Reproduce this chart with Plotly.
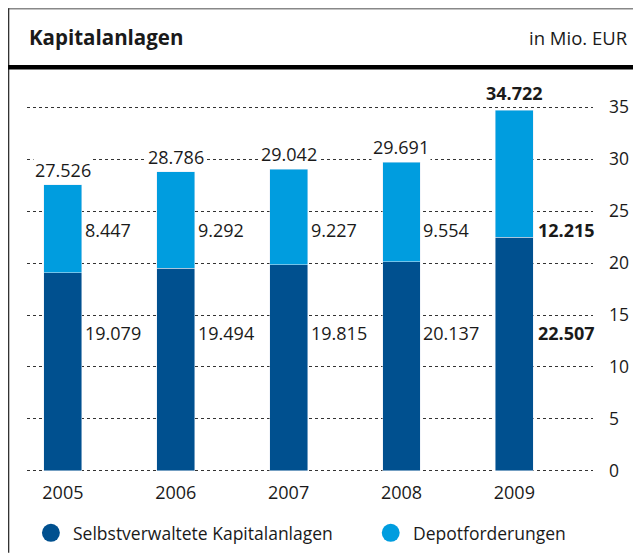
import plotly.graph_objects as go

years = ["2005", "2006", "2007", "2008", "2009"]
selbst = [19.079, 19.494, 19.815, 20.137, 22.507]
depot = [8.447, 9.292, 9.227, 9.554, 12.215]
totals = [27.526, 28.786, 29.042, 29.691, 34.722]
series_names = ["Selbstverwaltete Kapitalanlagen", "Depotforderungen"]
y_ticks = [0, 5, 10, 15, 20, 25, 30, 35]
title_text = "Kapitalanlagen"
unit_text = "in Mio. EUR"

DARK = "#00508f"
LIGHT = "#009ddf"
TXT = "#1a1a1a"
FONT = "Open Sans"

OFF = 8  # page body margin
W, H = 641 - OFF, 553 - OFF
# plot area in screen pixels
L, R = 27, 595
T, B = 102.8, 473.1


def px2x(px):
    return (px - L) / (R - L)


def px2y(py):
    return (B - py) / (B - T)


def fmt(v):
    return f"{v:.3f}"


xs = list(range(len(years)))
bw = 0.335

fig = go.Figure()
fig.add_trace(go.Bar(x=xs, y=selbst, name=series_names[0], marker_color=DARK,
                     width=bw, showlegend=False, hoverinfo="skip"))
fig.add_trace(go.Bar(x=xs, y=depot, name=series_names[1], marker_color=LIGHT,
                     width=bw, showlegend=False, hoverinfo="skip"))

annotations = []
last = len(years) - 1
VF = 18
for i in xs:
    bold = i == last

    def t(v):
        return f"<b>{fmt(v)}</b>" if bold else fmt(v)
    annotations.append(dict(x=i, y=totals[i], xref="x", yref="y", text=t(totals[i]),
                            showarrow=False, yanchor="middle", yshift=15 + (2 if bold else 0),
                            font=dict(family=FONT, size=VF, color=TXT), bgcolor="white"))
    annotations.append(dict(x=i + bw / 2, y=23.2, xref="x", yref="y", text=t(depot[i]),
                            showarrow=False, xanchor="left", yanchor="middle", xshift=1 + (2 if bold else 0),
                            font=dict(family=FONT, size=VF, color=TXT), bgcolor="white"))
    annotations.append(dict(x=i + bw / 2, y=13.3, xref="x", yref="y", text=t(selbst[i]),
                            showarrow=False, xanchor="left", yanchor="middle", xshift=1 + (2 if bold else 0),
                            font=dict(family=FONT, size=VF, color=TXT), bgcolor="white"))

# header
annotations.append(dict(x=px2x(27), y=px2y(37), xref="paper", yref="paper", text=f"<b>{title_text}</b>",
                        showarrow=False, xanchor="left", yanchor="middle",
                        font=dict(family=FONT, size=20.5, color=TXT)))
annotations.append(dict(x=px2x(632), y=px2y(37), xref="paper", yref="paper", text=unit_text,
                        showarrow=False, xanchor="right", yanchor="middle",
                        font=dict(family=FONT, size=18.5, color=TXT)))

# legend
leg = [(51, DARK, 71, series_names[0]), (392, LIGHT, 412, series_names[1])]
shapes = []
for cx, col, tx, name in leg:
    shapes.append(dict(type="circle", xref="paper", yref="paper",
                       x0=px2x(cx - 9), x1=px2x(cx + 9), y0=px2y(533 + 9), y1=px2y(533 - 9),
                       fillcolor=col, line=dict(width=0)))
    annotations.append(dict(x=px2x(tx), y=px2y(533), xref="paper", yref="paper", text=name,
                            showarrow=False, xanchor="left", yanchor="middle",
                            font=dict(family=FONT, size=17.5, color=TXT)))

# frame lines
shapes.append(dict(type="line", xref="paper", yref="paper", x0=px2x(8), x1=px2x(641),
                   y0=px2y(8.5), y1=px2y(8.5), line=dict(color="#888888", width=1.5)))
shapes.append(dict(type="line", xref="paper", yref="paper", x0=px2x(8.5), x1=px2x(8.5),
                   y0=px2y(8), y1=px2y(553), line=dict(color="#333333", width=1.5)))
shapes.append(dict(type="line", xref="paper", yref="paper", x0=px2x(8), x1=px2x(641),
                   y0=px2y(67), y1=px2y(67), line=dict(color="#000000", width=4.5)))

fig.update_layout(
    width=W, height=H,
    margin=dict(l=L - OFF, r=641 - R, t=T - OFF, b=553 - B, pad=0),
    paper_bgcolor="white", plot_bgcolor="white",
    barmode="stack",
    font=dict(family=FONT, size=17, color=TXT),
    annotations=annotations,
    shapes=shapes,
    showlegend=False,
    xaxis=dict(range=[-0.318, 4.697], tickmode="array", tickvals=xs, ticktext=years,
               showgrid=False, zeroline=False, showline=False, ticks="",
               ticklabelstandoff=7, tickfont=dict(family=FONT, size=18, color=TXT)),
    yaxis=dict(range=[-0.2, 35.4], side="right", tickmode="array", tickvals=y_ticks,
               showgrid=True, gridcolor="#333333", griddash="dot", gridwidth=1,
               zeroline=False, showline=False, ticks="", ticklabelstandoff=15,
               tickfont=dict(family=FONT, size=17.5, color=TXT)),
)

fig.write_html("out.html")
